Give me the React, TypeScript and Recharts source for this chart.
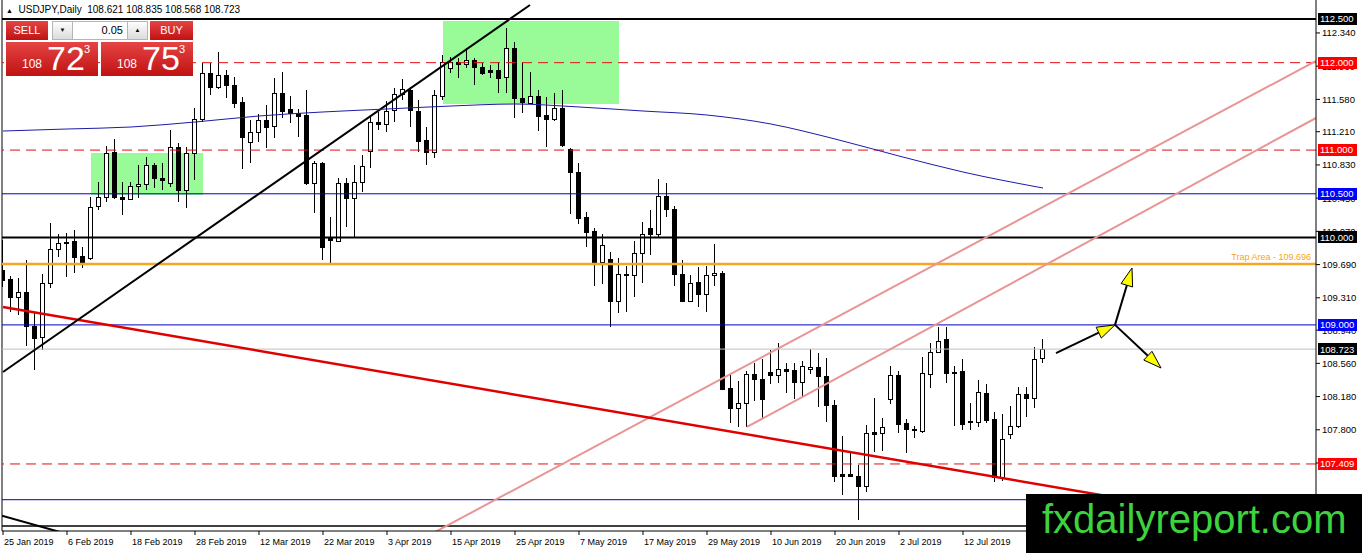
import React from 'react';
import { ComposedChart, Bar, Line, XAxis, YAxis, ReferenceLine, ReferenceArea } from 'recharts';

const FONT = '"Liberation Sans", Arial, sans-serif';

// daily candles, index 0 = 25 Jan 2019 ... index 130 = 26 Jul 2019
const opens = [
  109.628, 109.525, 109.319, 109.376, 108.987, 108.861, 109.479, 109.868, 109.937, 109.960,
  109.788, 109.765, 110.360, 110.463, 110.978, 110.463, 110.440, 110.589, 110.612, 110.829,
  110.680, 110.623, 111.035, 110.543, 110.966, 111.356, 111.882, 111.722, 111.859, 111.744,
  111.550, 111.092, 111.207, 111.344, 111.275, 111.653, 111.470, 111.424, 111.401, 110.623,
  110.852, 109.994, 109.960, 110.623, 110.451, 110.635, 110.989, 111.321, 111.298, 111.458,
  111.642, 111.687, 111.447, 111.115, 110.978, 111.619, 111.939, 112.008, 111.985, 112.031,
  111.951, 111.916, 111.916, 111.836, 112.168, 111.596, 111.539, 111.619, 111.401, 111.356,
  111.481, 111.012, 110.749, 110.234, 110.074, 109.719, 109.754, 109.273, 109.571, 109.571,
  109.822, 110.108, 110.040, 110.474, 110.326, 109.582, 109.273, 109.490, 109.353, 109.571,
  109.593, 108.278, 108.049, 108.106, 108.438, 108.381, 108.461, 108.426, 108.495, 108.484,
  108.346, 108.495, 108.518, 108.415, 108.083, 107.293, 107.293, 107.270, 107.156, 107.774,
  107.762, 108.152, 108.426, 107.877, 107.808, 107.785, 108.438, 108.689, 108.838, 108.449,
  108.472, 107.900, 107.889, 108.220, 107.923, 107.259, 107.751, 107.843, 108.209, 108.163,
  108.621,
];
const highs = [
  109.971, 109.559, 109.536, 109.742, 109.136, 109.582, 110.166, 110.040, 110.051, 110.085,
  109.891, 110.463, 110.635, 111.047, 111.127, 110.635, 110.635, 110.829, 110.921, 110.852,
  110.852, 111.230, 111.081, 111.035, 111.481, 111.996, 111.996, 112.122, 111.916, 111.836,
  111.607, 111.344, 111.413, 111.516, 111.825, 111.893, 111.619, 111.470, 111.687, 110.875,
  110.863, 110.234, 110.680, 110.680, 110.829, 110.944, 111.401, 111.436, 111.562, 111.710,
  111.813, 111.722, 111.573, 111.264, 111.687, 112.088, 112.065, 112.054, 112.168, 112.054,
  111.996, 111.973, 112.008, 112.397, 112.237, 112.008, 111.893, 111.687, 111.607, 111.653,
  111.687, 111.024, 110.852, 110.291, 110.108, 110.040, 109.834, 109.765, 109.673, 109.960,
  110.177, 110.314, 110.669, 110.623, 110.360, 109.742, 109.571, 109.662, 109.673, 109.925,
  109.616, 108.426, 108.358, 108.472, 108.564, 108.609, 108.712, 108.792, 108.564, 108.564,
  108.587, 108.723, 108.678, 108.621, 108.140, 107.728, 107.534, 107.397, 107.854, 108.163,
  107.934, 108.530, 108.472, 107.923, 107.843, 108.632, 108.792, 108.976, 108.976, 108.530,
  108.609, 108.106, 108.369, 108.323, 108.003, 107.980, 108.072, 108.289, 108.289, 108.747,
  108.835,
];
const lows = [
  109.433, 109.147, 109.113, 108.758, 108.484, 108.712, 109.422, 109.777, 109.547, 109.593,
  109.650, 109.742, 110.314, 110.406, 110.440, 110.257, 110.429, 110.451, 110.543, 110.566,
  110.543, 110.577, 110.406, 110.337, 110.658, 111.321, 111.630, 111.699, 111.596, 111.481,
  110.784, 110.852, 111.092, 111.024, 111.138, 111.367, 111.310, 111.150, 110.600, 110.280,
  109.742, 109.708, 109.948, 110.120, 109.994, 110.520, 110.795, 111.230, 111.207, 111.321,
  111.573, 111.264, 110.978, 110.829, 110.909, 111.573, 111.882, 111.825, 111.939, 111.744,
  111.859, 111.825, 111.653, 111.653, 111.367, 111.424, 111.527, 111.218, 111.035, 111.333,
  111.035, 110.269, 110.154, 109.891, 109.444, 109.467, 108.976, 109.136, 109.147, 109.319,
  109.479, 109.799, 110.005, 110.234, 109.444, 109.261, 109.261, 109.204, 109.147, 109.444,
  108.255, 107.877, 107.831, 107.831, 108.129, 107.934, 108.323, 108.335, 108.220, 108.152,
  108.175, 108.438, 108.060, 107.889, 107.202, 107.053, 107.259, 106.767, 107.088, 107.545,
  107.557, 108.094, 107.762, 107.534, 107.705, 107.762, 108.278, 108.678, 108.335, 107.843,
  107.797, 107.797, 107.831, 107.877, 107.202, 107.213, 107.694, 107.820, 107.946, 108.049,
  108.568,
];
const closes = [
  109.513, 109.319, 109.376, 108.987, 108.850, 109.479, 109.868, 109.937, 109.948, 109.777,
  109.708, 110.349, 110.463, 110.966, 110.463, 110.440, 110.589, 110.612, 110.829, 110.680,
  110.658, 111.035, 110.543, 110.966, 111.356, 111.882, 111.722, 111.859, 111.744, 111.539,
  111.150, 111.207, 111.344, 111.264, 111.653, 111.447, 111.424, 111.390, 110.623, 110.852,
  109.891, 109.971, 110.623, 110.451, 110.635, 110.818, 111.321, 111.298, 111.447, 111.642,
  111.699, 111.458, 111.104, 110.978, 111.630, 112.008, 112.008, 111.985, 112.031, 111.951,
  111.882, 111.893, 111.825, 112.168, 111.596, 111.550, 111.619, 111.390, 111.356, 111.481,
  111.058, 110.749, 110.223, 110.063, 109.719, 109.914, 109.273, 109.582, 109.582, 109.822,
  110.040, 110.040, 110.474, 110.326, 109.582, 109.273, 109.479, 109.353, 109.571, 109.593,
  108.266, 108.049, 108.106, 108.438, 108.381, 108.152, 108.426, 108.495, 108.472, 108.346,
  108.530, 108.518, 108.415, 108.083, 107.270, 107.270, 107.270, 107.156, 107.762, 107.751,
  107.831, 108.426, 107.866, 107.808, 107.797, 108.449, 108.689, 108.815, 108.449, 108.461,
  107.866, 107.889, 108.232, 107.911, 107.259, 107.694, 107.843, 108.209, 108.163, 108.609,
  108.723,
];

// moving average, read at a few bars
const maBars = [0, 8, 16, 24, 32, 40, 48, 56, 64, 72, 80, 88, 96, 104, 112, 120, 130];
const maValues = [
  111.218, 111.241, 111.264, 111.321, 111.390, 111.436, 111.470, 111.504, 111.527,
  111.493, 111.447, 111.401, 111.298, 111.127, 110.932, 110.749, 110.566,
];

const dateTicks = [0, 8, 16, 24, 32, 40, 48, 56, 64, 72, 80, 88, 96, 104, 112, 120];
const dateLabels = [
  '25 Jan 2019', '6 Feb 2019', '18 Feb 2019', '28 Feb 2019', '12 Mar 2019', '22 Mar 2019',
  '3 Apr 2019', '15 Apr 2019', '25 Apr 2019', '7 May 2019', '17 May 2019', '29 May 2019',
  '10 Jun 2019', '20 Jun 2019', '2 Jul 2019', '12 Jul 2019',
];

const priceTicks = [
  112.34, 111.96, 111.58, 111.21, 110.83, 110.45, 110.07, 109.69,
  109.31, 108.94, 108.56, 108.18, 107.8, 107.42, 107.03,
];

// horizontal levels with their axis tags
const tagLevels = [112.5, 112.0, 111.0, 110.5, 110.0, 109.0, 108.723, 107.409];
const tagColors = ['#000', '#ff0000', '#ff0000', '#0000ff', '#000', '#0000ff', '#000', '#ff0000'];

// drawn objects (bar index, price)
const trendUp = [[0, 108.461], [65.875, 112.66]];
const trendLowLeft = [[-0.125, 106.816], [10, 106.557]];
const trendDown = [[0, 109.205], [164.125, 106.633]];
const channelA = [[54, 106.63], [164.125, 112.02]];
const channelB = [[93, 107.832], [164.125, 111.367]];
const arrowLeft = [[131.625, 108.678], [139, 109.0]];
const arrowUp = [[139, 109.0], [141.125, 109.651]];
const arrowDown = [[139, 109.0], [144.75, 108.507]];
const boxFeb = [11, 25, 110.486, 110.966];
const boxApr = [55, 77, 111.527, 112.477];
const trapLevel = 109.696;

const X_DOMAIN = [-0.125, 164.125];
const Y_DOMAIN = [106.642, 112.717];

const data = opens.map((o, i) => ({
  i,
  o,
  h: highs[i],
  l: lows[i],
  c: closes[i],
  ma: maBars.includes(i) ? maValues[maBars.indexOf(i)] : null,
}));

const Candle = (props: any) => {
  const { x, y, width, height, payload } = props;
  const { o, h, l, c } = payload;
  const top = Math.min(y, y + height);
  const hh = Math.abs(height);
  const k = h === l ? 0 : hh / (h - l);
  const cx = Math.floor(x + width / 2) + 0.5;
  const yo = top + (h - o) * k;
  const yc = top + (h - c) * k;
  const bt = Math.round(Math.min(yo, yc)) + 0.5;
  const bb = Math.round(Math.max(yo, yc)) + 0.5;
  return (
    <g>
      <line x1={cx} x2={cx} y1={Math.round(top)} y2={Math.round(top + hh)} stroke="#000" strokeWidth={1} />
      <rect x={cx - 2} y={bt} width={4} height={Math.max(bb - bt, 1)} fill={c >= o ? '#fff' : '#000'} stroke="#000" strokeWidth={1} />
    </g>
  );
};

const Arrow = (props: any) => {
  const { x1, y1, x2, y2 } = props;
  const a = Math.atan2(y2 - y1, x2 - x1);
  const len = 18;
  const half = 6;
  const bx = x2 - len * Math.cos(a);
  const by = y2 - len * Math.sin(a);
  const px = -Math.sin(a) * half;
  const py = Math.cos(a) * half;
  return (
    <g>
      <line x1={x1} y1={y1} x2={bx} y2={by} stroke="#000" strokeWidth={2} />
      <polygon points={`${x2},${y2} ${bx + px},${by + py} ${bx - px},${by - py}`} fill="#ffff00" stroke="#000" strokeWidth={1} />
    </g>
  );
};

const priceTag = (text: string, bg: string) => (props: any) => {
  const vb = props.viewBox || {};
  const y = vb.y ?? 0;
  const right = (vb.x ?? 0) + (vb.width ?? 0);
  return (
    <g>
      <rect x={right + 2} y={Math.round(y) - 6} width={39} height={12} fill={bg} />
      <text x={right + 4} y={y} dy="0.36em" fontSize={9.5} fill="#fff" fontFamily={FONT}>
        {text}
      </text>
    </g>
  );
};

const trapNote = (props: any) => {
  const vb = props.viewBox || {};
  const right = (vb.x ?? 0) + (vb.width ?? 0);
  return (
    <text x={right - 5} y={(vb.y ?? 0) - 4} fontSize={9} fill="#f5a623" textAnchor="end" fontFamily={FONT}>
      {`Trap Area - ${trapLevel.toFixed(3)}`}
    </text>
  );
};

const DateTick = (props: any) => {
  const { x, y, payload } = props;
  return (
    <text x={x + 1} y={y} dy={8} fontSize={9} fill="#000" textAnchor="start" fontFamily={FONT}>
      {dateLabels[dateTicks.indexOf(payload.value)]}
    </text>
  );
};

const seg = (p: number[][]) => [{ x: p[0][0], y: p[0][1] }, { x: p[1][0], y: p[1][1] }];

const RED_BTN = 'linear-gradient(#e54444, #c01212)';

export default function App() {
  return (
    <div style={{ position: 'relative', width: 1362, height: 553, background: '#fff', fontFamily: FONT }}>
      <style>{'body{margin:0}'}</style>
      <ComposedChart width={1362} height={553} data={data} margin={{ top: 0, right: 0, bottom: 0, left: 2 }}>
        <XAxis
          dataKey="i"
          type="number"
          domain={X_DOMAIN}
          allowDataOverflow
          ticks={dateTicks}
          interval={0}
          height={22}
          tickSize={4}
          axisLine={{ stroke: '#000' }}
          tickLine={{ stroke: '#000' }}
          tick={<DateTick />}
        />
        <YAxis
          orientation="right"
          width={46}
          domain={Y_DOMAIN}
          allowDataOverflow
          ticks={priceTicks}
          interval={0}
          tickSize={4}
          tickFormatter={(v: number) => v.toFixed(3)}
          axisLine={{ stroke: '#000' }}
          tickLine={{ stroke: '#000' }}
          tick={{ fontSize: 9.5, fill: '#000', fontFamily: FONT }}
        />
        <ReferenceArea x1={boxFeb[0]} x2={boxFeb[1]} y1={boxFeb[2]} y2={boxFeb[3]} fill="#98fb98" fillOpacity={1} stroke="none" />
        <ReferenceArea x1={boxApr[0]} x2={boxApr[1]} y1={boxApr[2]} y2={boxApr[3]} fill="#98fb98" fillOpacity={1} stroke="none" />

        <ReferenceLine x={X_DOMAIN[0]} stroke="#000" strokeWidth={1} />
        <ReferenceLine y={112.5} stroke="#000" strokeWidth={2} />
        <ReferenceLine y={112.0} stroke="#e01010" strokeDasharray="10 6" />
        <ReferenceLine y={111.0} stroke="#e01010" strokeDasharray="10 6" />
        <ReferenceLine y={110.5} stroke="#0000c0" strokeWidth={1} />
        <ReferenceLine y={110.0} stroke="#000" strokeWidth={2} />
        <ReferenceLine y={trapLevel} stroke="#f5a623" strokeWidth={2.5} label={trapNote} />
        <ReferenceLine y={109.0} stroke="#0000c0" strokeWidth={1} />
        <ReferenceLine y={108.723} stroke="#c0c0c0" strokeWidth={1} />
        <ReferenceLine y={107.409} stroke="#e01010" strokeDasharray="10 6" />
        <ReferenceLine y={107.0} stroke="#0000c0" strokeWidth={1} />
        <ReferenceLine y={106.7} stroke="#000" strokeWidth={1.5} />

        <ReferenceLine segment={seg(channelA)} stroke="#e89595" strokeWidth={2} ifOverflow="hidden" />
        <ReferenceLine segment={seg(channelB)} stroke="#e89595" strokeWidth={2} ifOverflow="hidden" />
        <ReferenceLine segment={seg(trendDown)} stroke="#e00000" strokeWidth={2.5} ifOverflow="hidden" />
        <ReferenceLine segment={seg(trendUp)} stroke="#000" strokeWidth={2} ifOverflow="hidden" />
        <ReferenceLine segment={seg(trendLowLeft)} stroke="#000" strokeWidth={2} ifOverflow="hidden" />

        <Line dataKey="ma" type="monotone" stroke="#1c1ca8" strokeWidth={1} dot={false} connectNulls isAnimationActive={false} />
        <Bar dataKey={(d: any) => [d.l, d.h]} shape={Candle} barSize={5} isAnimationActive={false} />

        <ReferenceLine segment={seg(arrowLeft)} ifOverflow="visible" shape={Arrow} />
        <ReferenceLine segment={seg(arrowUp)} ifOverflow="visible" shape={Arrow} />
        <ReferenceLine segment={seg(arrowDown)} ifOverflow="visible" shape={Arrow} />
      </ComposedChart>

      {/* price tags sit above the axis labels, same scale as the chart below */}
      <div style={{ position: 'absolute', left: 0, top: 0, pointerEvents: 'none' }}>
        <ComposedChart width={1362} height={553} data={data} margin={{ top: 0, right: 46, bottom: 22, left: 2 }}>
          <XAxis dataKey="i" type="number" domain={X_DOMAIN} allowDataOverflow hide />
          <YAxis domain={Y_DOMAIN} allowDataOverflow hide />
          {tagLevels.map((lv, k) => (
            <ReferenceLine key={lv} y={lv} stroke="none" label={priceTag(lv.toFixed(3), tagColors[k])} />
          ))}
        </ComposedChart>
      </div>

      {/* header line */}
      <div style={{ position: 'absolute', left: 6, top: 4, fontSize: 10, lineHeight: '12px', whiteSpace: 'pre', color: '#000' }}>
        <span style={{ fontSize: 7 }}>▲</span>
        {`  USDJPY,Daily  ${opens[130].toFixed(3)} ${highs[130].toFixed(3)} ${lows[130].toFixed(3)} ${closes[130].toFixed(3)}`}
      </div>

      {/* one-click trading panel */}
      <div style={{ position: 'absolute', left: 6, top: 21, width: 42, height: 19, background: RED_BTN, color: '#fff', fontSize: 11, lineHeight: '19px', textAlign: 'center' }}>SELL</div>
      <div style={{ position: 'absolute', left: 52, top: 21, width: 96, height: 19, background: '#fff', border: '1px solid #b5b5b5', boxSizing: 'border-box' }}>
        <div style={{ position: 'absolute', left: 0, top: 0, width: 19, height: 17, background: 'linear-gradient(#fdfdfd, #dcdcdc)', borderRight: '1px solid #b5b5b5', fontSize: 6, lineHeight: '17px', textAlign: 'center' }}>▼</div>
        <div style={{ position: 'absolute', right: 24, top: 0, fontSize: 11, lineHeight: '17px' }}>0.05</div>
        <div style={{ position: 'absolute', right: 0, top: 0, width: 19, height: 17, background: 'linear-gradient(#fdfdfd, #dcdcdc)', borderLeft: '1px solid #b5b5b5', fontSize: 6, lineHeight: '17px', textAlign: 'center' }}>▲</div>
      </div>
      <div style={{ position: 'absolute', left: 150, top: 21, width: 43, height: 19, background: RED_BTN, color: '#fff', fontSize: 11, lineHeight: '19px', textAlign: 'center' }}>BUY</div>
      {[['72', 6], ['75', 101]].map(([pips, left]) => (
        <div key={pips as string} style={{ position: 'absolute', left: left as number, top: 42, width: 92, height: 34, background: RED_BTN, color: '#fff' }}>
          <span style={{ position: 'absolute', left: 16, top: 16, fontSize: 12, lineHeight: '12px' }}>108</span>
          <span style={{ position: 'absolute', left: 41, top: -1, fontSize: 34, lineHeight: '34px' }}>{pips}</span>
          <span style={{ position: 'absolute', left: 78, top: 2, fontSize: 11, lineHeight: '11px' }}>3</span>
        </div>
      ))}

      {/* watermark */}
      <div style={{ position: 'absolute', left: 1026, top: 494, width: 336, height: 59, background: '#000' }}>
        <span style={{ position: 'absolute', left: 16, top: 5, fontSize: 40, lineHeight: '40px', color: '#3fd23f', fontFamily: 'Arial, "Liberation Sans", sans-serif' }}>
          fxdailyreport.com
        </span>
      </div>
    </div>
  );
}
